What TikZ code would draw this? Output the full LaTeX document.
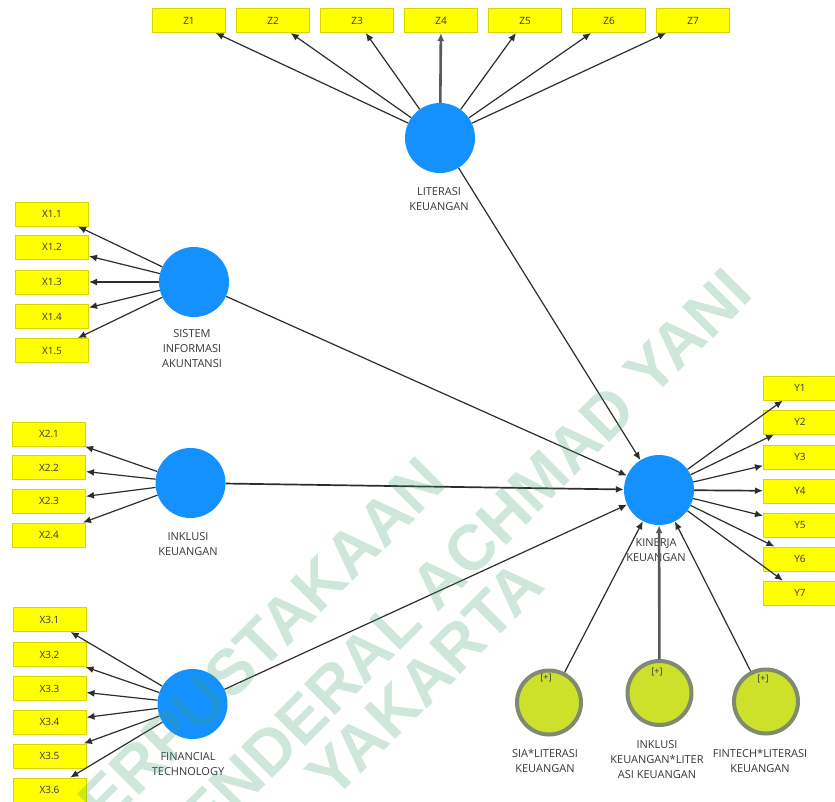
\documentclass[tikz,border=0pt]{standalone}
\usepackage{fontspec}
\setmainfont{Open Sans}
\newfontfamily\wmfont{Liberation Sans}
\usetikzlibrary{arrows.meta}
\definecolor{lvblue}{RGB}{20,144,255}
\definecolor{indyel}{RGB}{255,255,0}
\definecolor{indbrd}{RGB}{215,215,0}
\definecolor{modfill}{RGB}{205,224,42}
\definecolor{modbrd}{RGB}{128,138,112}
\definecolor{lnk}{RGB}{45,45,45}
\definecolor{txt}{RGB}{55,55,60}
\definecolor{wm}{RGB}{60,160,110}
\begin{document}
\begin{tikzpicture}[x=1pt,y=-1pt,
 lv/.style={circle,fill=lvblue,minimum size=70pt,inner sep=0pt},
 mod/.style={circle,fill=modfill,draw=modbrd,line width=4pt,minimum size=64pt,inner sep=0pt},
 ind/.style={rectangle,fill=indyel,draw=indbrd,line width=1pt,minimum width=73pt,minimum height=24pt,inner sep=0pt,font=\fontsize{10}{12}\selectfont,text=txt},
 lbl/.style={align=center,font=\fontsize{11}{15}\selectfont,text=txt,inner sep=0pt},
 plus/.style={font=\fontsize{9}{10}\selectfont,text=black!80,inner sep=0pt},
 arr/.style={draw=lnk,line width=1.2pt,-{Latex[length=8pt,width=7pt]}},
 arrmid/.style={arr,line width=1.7pt},
 arrthick/.style={arr,draw=black!65,line width=2.6pt},
 wmtext/.style={font=\wmfont\bfseries\fontsize{64}{64}\selectfont,text=wm,opacity=0.25,rotate=45,inner sep=0pt,anchor=east}
]
\useasboundingbox (0,0) rectangle (835,801);
\fill[white] (0,0) rectangle (835,801);
\clip (0,0) rectangle (835,801);

% latent variables
\node[lv] (lit) at (440,138) {};
\node[lv] (sia) at (194,282) {};
\node[lv] (ink) at (190.5,483) {};
\node[lv] (fin) at (192.5,704) {};
\node[lv] (kin) at (659,490) {};

% moderating effects
\node[mod] (m1) at (549,702.5) {};
\node[mod] (m2) at (659.5,693) {};
\node[mod] (m3) at (766,701.5) {};
\node[plus] (p1) at (546,678) {[+]};
\node[plus] (p2) at (657,672) {[+]};
\node[plus] (p3) at (763,679) {[+]};

% labels
\node[lbl] (litl) at (439,199) {LITERASI\\KEUANGAN};
\node[lbl] (sial) at (192,349) {SISTEM\\INFORMASI\\AKUNTANSI};
\node[lbl] (inkl) at (188,544.5) {INKLUSI\\KEUANGAN};
\node[lbl] (finl) at (188,764.5) {FINANCIAL\\TECHNOLOGY};
\node[lbl] (kinl) at (656,550) {KINERJA\\KEUANGAN};
\node[lbl] (m1l) at (545,760.5) {SIA*LITERASI\\KEUANGAN};
\node[lbl] (m2l) at (657,760) {INKLUSI\\KEUANGAN*LITER\\ASI KEUANGAN};
\node[lbl] (m3l) at (760,760.5) {FINTECH*LITERASI\\KEUANGAN};

% indicators
\foreach \i/\x in {1/189,2/273,3/357,4/441,5/525,6/609,7/693}
  \node[ind] (z\i) at (\x,20.5) {Z\i};
\foreach \i/\y in {1/214,2/247,3/282,4/316.5,5/350.5}
  \node[ind] (xa\i) at (52,\y) {X1.\i};
\foreach \i/\y in {1/434,2/467.5,3/501,4/535}
  \node[ind] (xb\i) at (49,\y) {X2.\i};
\foreach \i/\y in {1/619.5,2/654.5,3/688.5,4/722,5/756,6/790}
  \node[ind] (xc\i) at (49.5,\y) {X3.\i};
\foreach \i/\y in {1/388,2/422,3/457,4/491,5/525,6/559,7/593}
  \node[ind] (y\i) at (800,\y) {Y\i};

% outer loadings
\foreach \i in {1,2,3,5,6,7} \draw[arr] (lit) -- (z\i);
\draw[arrthick] (lit) -- (z4);
\foreach \i in {1,...,5} \draw[arr] (sia) -- (xa\i);
\foreach \i in {1,...,4} \draw[arr] (ink) -- (xb\i);
\foreach \i in {1,...,6} \draw[arr] (fin) -- (xc\i);
\foreach \i in {1,2,3,5,6,7} \draw[arr] (kin) -- (y\i);
\draw[arrmid] (kin) -- (y4);

% structural paths
\draw[arr] (lit) -- (kin);
\draw[arr] (sia) -- (kin);
\draw[arrmid] (ink) -- (kin);
\draw[arr] (fin) -- (kin);
\draw[arr] (m1) -- (kin);
\draw[arrthick] (m2) -- (kin);
\draw[arr] (m3) -- (kin);

% watermark
\node[wmtext] (wm1) at (434,469) {ERPUSTAKAAN};
\node[wmtext] (wm2) at (740,280) {ENDERAL ACHMAD YANI};
\node[wmtext] (wm3) at (532,572) {YAKARTA};
\end{tikzpicture}
\end{document}
